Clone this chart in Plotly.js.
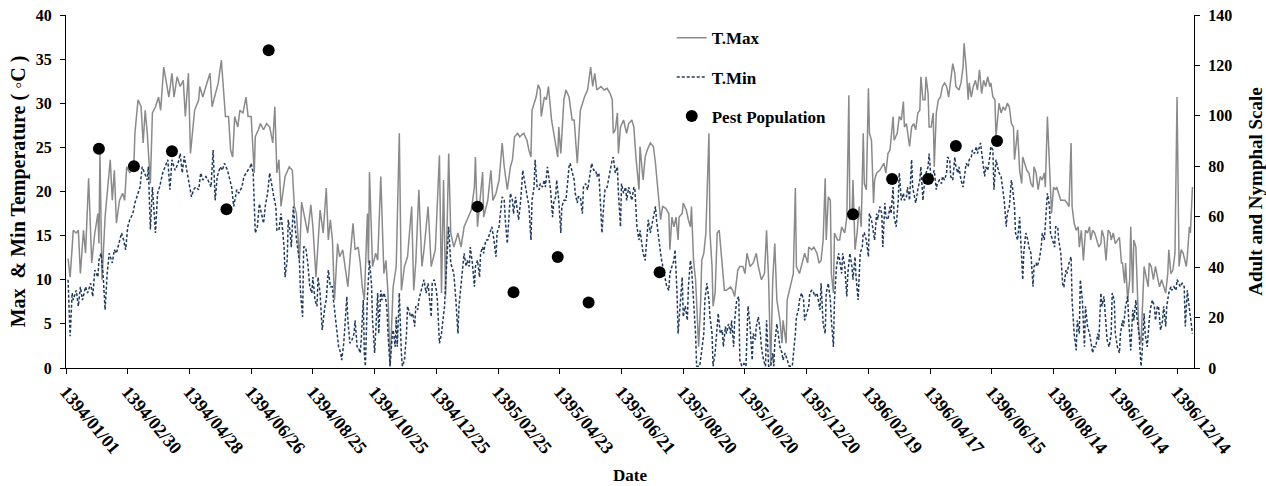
<!DOCTYPE html>
<html>
<head>
<meta charset="utf-8">
<script src="https://cdn.plot.ly/plotly-3.0.1.min.js"></script>
<style>html,body{margin:0;padding:0;background:#fff;}#chart{width:1266px;height:486px;}</style>
</head>
<body>
<div id="chart"></div>
<script>
// Day index from 1394/01/01
const tickDays = [0,60,120,180,240,300,360,420,480,540,600,660,720,780,840,900,960,1020,1080];
const tickLabels = ['1394/01/01','1394/02/30','1394/04/28','1394/06/26','1394/08/25','1394/10/25','1394/12/25','1395/02/25','1395/04/23','1395/06/21','1395/08/20','1395/10/20','1395/12/20','1396/02/19','1396/04/17','1396/06/15','1396/08/14','1396/10/14','1396/12/14'];

const tmaxDay = [2,4,6,7,10,12,14,17,19,22,25,28,31,32,33,35,38,40,43,45,47,49,52,55,57,59,62,66,67,70,73,75,77,79,82,84,87,90,92,95,98,100,103,105,108,111,114,116,119,121,125,129,130,133,137,140,142,145,148,151,153,155,158,160,162,164,167,169,172,175,177,
180,183,184,187,189,192,195,198,201,203,205,207,209,213,217,220,222,224,227,229,232,235,238,240,243,247,250,253,255,257,259,261,264,266,269,274,277,279,281,284,286,288,290,293,294,295,298,301,303,306,309,311,313,315,318,321,324,326,329,332,336,338,340,343,346,348,352,355,359,363,365,367,369,372,374,377,381,
384,387,390,394,397,398,400,403,405,406,410,413,415,418,421,424,426,429,432,434,436,439,441,445,448,450,452,453,457,459,461,462,465,467,469,472,474,478,479,481,484,486,489,492,494,497,500,502,504,507,509,510,512,514,516,520,523,526,529,531,532,534,536,537,539,542,545,547,550,552,554,557,558,561,563,565,568,571,573,575,578,580,583,586,
587,589,591,593,595,596,599,600,603,605,607,608,610,612,613,615,617,618,620,622,625,626,628,629,631,633,635,638,640,642,646,648,650,653,655,658,660,662,665,668,671,673,676,679,681,683,685,687,689,691,694,696,697,700,701,704,707,709,710,713,715,718,721,722,725,727,730,732,734,736,738,739,741,743,744,746,747,750,752,754,757,759,761,762,764,765,767,769,771,773,775,776,778,780,781,783,785,786,788,791,
793,795,797,799,801,802,804,805,808,810,812,814,815,817,820,822,824,826,828,830,831,833,835,836,838,839,841,843,844,846,848,850,852,854,856,858,860,862,864,865,868,870,872,873,875,877,878,880,882,884,886,888,890,892,894,896,898,899,901,903,904,906,907,909,911,913,915,917,919,921,922,924,925,927,929,930,932,934,936,938,940,941,943,945,947,949,951,952,954,956,958,960,962,963,965,967,969,971,973,975,977,978,980,982,984,985,987,989,991,993,
995,996,998,1000,1002,1004,1006,1007,1009,1011,1013,1015,1016,1018,1020,1022,1024,1026,1027,1029,1030,1032,1034,1035,1037,1038,1040,1042,1043,1045,1047,1048,1050,1052,1053,1055,1057,1059,1061,1063,1065,1067,1069,1071,1072,1074,1076,1078,1080,1082,1084,1086,1088,1089,1090,1092,1093,1095];
const tmaxC = [12.4,10.3,13.7,15.6,15.3,15.6,10.7,15.6,13.0,21.5,11.9,15.3,17.5,14.1,24.3,10.0,17.1,19.8,23.6,19.0,22.4,16.4,19.0,19.8,19.0,22.8,22.1,23.2,26.6,30.4,29.6,25.5,29.2,26.6,20.9,28.9,29.6,30.7,29.2,34.1,31.9,30.7,33.4,30.7,33.0,31.9,32.6,28.5,33.4,24.3,29.2,30.4,31.9,30.7,32.3,33.4,29.6,31.1,32.3,34.9,31.1,28.5,28.5,24.7,23.9,28.5,27.3,29.2,28.9,30.7,28.5,
28.5,22.1,26.2,27.0,27.7,27.0,27.7,27.3,25.5,29.6,22.1,23.6,18.3,21.7,22.8,22.4,18.3,17.5,12.2,18.8,17.1,15.3,18.5,16.0,10.3,17.9,15.3,20.4,14.5,16.8,14.5,7.7,14.1,12.6,13.4,9.2,13.7,16.4,13.4,13.7,11.9,9.2,7.7,17.5,11.9,22.2,11.5,13.0,12.2,21.7,10.7,12.2,8.5,0.2,9.2,11.5,26.6,8.8,11.5,12.6,18.3,8.8,11.9,20.2,11.5,13.4,18.3,11.5,13.4,24.1,8.5,21.3,8.2,24.3,15.3,13.7,15.3,
13.7,16.0,16.8,17.9,20.5,23.9,16.0,19.4,22.2,17.1,19.0,22.4,19.0,19.8,21.3,25.5,22.8,20.2,22.8,23.6,26.2,26.6,26.2,26.6,25.8,24.7,23.9,29.2,30.7,32.1,31.5,28.5,30.7,30.4,31.9,28.1,26.6,23.9,27.3,24.3,30.4,31.5,30.7,28.1,28.1,23.2,29.2,30.0,30.7,31.5,33.0,34.1,31.9,33.4,31.5,31.9,31.5,31.7,31.1,30.4,26.6,27.0,28.9,24.3,27.3,28.1,26.6,27.7,28.1,27.3,23.9,20.2,25.1,21.3,23.9,24.7,25.5,25.1,23.2,20.5,16.8,18.3,18.1,17.5,
13.4,17.1,16.0,17.1,14.5,17.1,17.5,18.7,17.9,16.8,16.0,18.3,12.2,10.0,7.7,2.4,7.7,12.2,13.0,15.3,26.6,15.3,11.5,7.0,8.5,15.3,15.6,11.1,8.8,8.8,9.2,8.8,8.1,11.1,11.5,11.5,10.7,13.0,11.5,11.9,13.0,11.5,10.0,10.7,15.6,10.0,0.2,10.0,14.1,7.7,5.4,2.8,5.4,2.8,7.7,9.2,10.7,20.4,11.5,10.7,11.5,13.0,11.9,13.7,13.4,13.7,13.0,11.9,12.2,14.5,21.5,14.5,19.4,19.0,10.7,8.5,15.3,14.5,14.5,16.0,15.3,17.1,30.9,16.8,17.1,21.3,13.4,15.3,18.3,16.0,26.6,20.9,20.2,31.7,26.6,25.8,18.7,21.3,22.1,22.4,
22.8,23.2,22.1,24.3,24.7,25.8,28.5,25.8,26.6,28.5,28.1,30.2,27.3,27.7,25.1,27.3,27.7,27.0,28.9,29.2,33.0,30.4,30.4,33.0,31.1,27.3,27.3,28.9,22.8,28.9,30.4,30.7,31.9,32.3,31.9,30.7,32.6,34.5,33.4,31.9,31.5,32.3,34.1,36.8,34.1,30.4,32.3,30.7,31.9,32.6,31.5,33.8,31.1,32.6,31.9,33.0,31.9,32.3,30.7,30.4,26.2,28.5,30.0,28.9,29.6,29.2,30.0,29.6,27.7,27.3,23.6,25.8,27.0,22.4,20.9,23.9,23.2,22.4,22.1,20.9,20.5,22.8,22.1,20.2,21.7,21.3,22.1,20.5,28.5,22.8,17.5,20.5,20.2,20.5,19.8,19.0,19.0,19.0,18.7,18.3,25.5,18.3,16.4,15.6,16.0,13.7,15.6,12.2,15.6,15.3,
16.0,14.5,15.6,15.3,14.5,13.7,14.1,15.6,14.8,12.2,15.6,15.3,14.5,15.3,14.1,14.5,14.8,11.9,11.9,9.6,11.9,7.7,10.0,16.0,8.5,14.5,13.7,7.0,3.9,2.8,7.7,11.5,10.3,9.2,11.9,11.5,10.0,11.5,10.3,9.2,10.0,9.2,8.5,10.7,13.4,10.7,11.1,13.0,30.7,11.5,13.4,13.0,11.9,11.5,12.6,16.0,15.3,20.5];

const tminDay = [2,4,6,7,10,12,14,16,19,21,24,26,28,31,32,34,36,38,40,42,45,47,49,52,54,56,58,60,62,65,67,70,72,74,76,79,80,82,84,87,89,91,94,96,99,101,103,106,109,111,113,115,117,119,122,124,126,129,131,133,136,138,141,143,145,147,150,152,154,157,159,161,163,166,168,171,173,175,179,
180,182,184,186,188,190,192,194,196,198,200,202,204,205,207,209,210,212,213,215,216,218,219,221,223,225,227,228,230,231,233,235,237,239,240,242,244,245,247,249,250,252,253,255,257,259,260,262,263,265,267,268,270,271,273,274,276,278,280,281,283,284,286,287,289,290,291,293,295,297,298,300,301,303,304,306,307,309,311,312,313,315,317,318,320,321,322,324,326,327,329,331,332,334,335,337,339,340,342,343,345,347,348,350,352,353,355,356,358,360,361,363,365,366,368,369,371,372,374,376,377,379,381,382,384,
385,387,389,390,392,393,395,397,398,400,402,403,405,406,408,410,412,414,416,418,419,421,423,424,426,427,429,431,432,434,435,437,439,440,442,444,445,447,448,450,452,453,455,456,458,460,461,463,465,466,468,469,471,473,474,476,477,479,481,482,484,486,487,489,490,492,494,495,497,498,500,502,503,505,507,508,510,511,513,515,516,518,519,521,523,524,526,528,529,531,532,534,536,537,539,540,542,544,545,547,549,550,552,553,555,557,558,560,561,563,565,566,568,570,571,573,574,576,578,579,581,582,584,586,
587,589,591,592,594,595,597,599,600,602,604,605,607,608,610,612,613,616,618,620,621,623,625,626,628,629,631,633,634,636,638,639,641,642,644,646,647,649,650,652,654,655,657,659,661,662,663,665,667,668,670,671,673,675,676,678,680,681,683,685,687,688,689,691,692,694,696,697,699,701,703,706,707,709,710,712,713,715,717,718,720,722,723,725,726,728,730,731,733,734,736,738,739,741,743,744,746,747,749,751,752,754,755,757,759,760,762,764,765,767,768,770,772,774,775,776,778,780,781,783,785,786,788,789,791,
793,794,796,797,799,801,802,804,805,807,809,810,812,814,815,817,818,820,822,823,825,826,828,830,831,833,835,836,838,839,841,843,844,846,847,849,851,852,854,856,857,859,860,862,864,865,867,868,870,872,873,875,877,878,880,881,883,885,886,888,889,891,893,894,896,898,899,901,902,904,906,907,909,910,912,914,915,917,919,920,922,923,925,927,928,930,931,933,935,936,938,940,941,943,944,946,948,949,951,952,954,956,957,959,961,962,964,965,967,969,970,972,973,975,977,978,980,982,983,985,986,988,990,991,993,
995,996,998,999,1001,1003,1004,1006,1007,1009,1011,1012,1014,1016,1017,1019,1020,1022,1024,1025,1027,1028,1030,1032,1033,1035,1037,1038,1040,1041,1043,1045,1046,1048,1049,1051,1053,1054,1056,1058,1059,1061,1062,1064,1066,1067,1069,1070,1072,1074,1075,1077,1079,1080,1082,1083,1085,1087,1088,1090,1091,1093,1095];
const tminC = [10.0,3.6,8.5,7.7,8.8,7.0,9.2,7.7,9.2,8.5,9.6,8.1,11.1,10.3,12.2,13.0,10.7,6.6,10.7,13.0,11.9,13.4,13.0,14.5,15.3,14.5,13.4,16.0,16.8,17.5,18.7,19.8,20.5,22.8,22.1,21.3,22.8,15.7,20.5,15.3,19.8,20.5,22.1,22.8,23.6,20.2,23.6,22.4,23.2,24.3,22.1,24.0,22.8,21.3,19.4,20.2,20.5,20.2,22.1,21.3,21.7,21.3,20.5,24.7,19.0,21.7,22.8,22.4,23.2,22.4,21.3,20.5,18.3,20.2,19.8,20.5,21.7,22.1,22.8,
23.2,22.1,15.3,16.0,18.6,17.5,16.4,18.6,19.8,22.1,20.5,19.4,18.3,15.6,15.6,17.5,16.4,13.7,10.3,12.2,16.8,15.3,13.7,18.3,15.6,13.4,11.9,8.5,5.8,13.7,13.7,11.9,9.2,8.5,10.3,7.7,7.0,10.3,8.5,4.3,5.4,7.3,7.7,11.1,9.2,9.2,7.7,5.4,4.3,2.4,1.7,0.9,2.8,4.7,8.1,5.4,2.8,3.2,3.9,5.4,2.4,2.4,1.7,3.2,7.7,1.7,0.2,8.1,12.2,9.4,5.4,1.7,4.7,8.5,3.9,8.8,7.7,8.5,7.7,6.6,3.9,0.2,3.5,4.3,2.4,5.8,2.4,8.5,1.7,0.2,0.9,3.9,7.0,6.2,5.8,6.2,4.7,7.0,6.6,7.7,8.8,9.6,10.0,8.5,9.6,8.5,5.8,9.6,10.0,8.8,7.7,2.8,3.9,5.0,7.0,9.6,13.7,16.0,11.9,11.1,10.7,7.7,3.9,7.0,9.4,
10.7,13.0,11.5,12.2,11.5,13.7,11.9,9.2,11.5,12.2,10.3,13.0,13.7,13.0,14.5,14.5,15.3,16.0,14.5,12.6,15.3,16.0,18.3,19.4,19.0,16.8,14.1,19.0,19.8,19.0,17.5,19.4,17.5,16.8,19.0,22.4,21.7,20.5,19.8,18.3,14.5,19.0,20.5,23.6,20.5,20.2,20.9,20.5,21.3,20.5,22.8,21.7,20.2,17.1,18.7,19.4,21.3,19.0,15.3,18.3,19.0,19.0,20.5,22.8,23.2,22.1,21.3,19.8,18.7,19.4,19.4,17.5,20.5,20.9,20.2,20.9,22.4,23.2,22.4,22.4,21.7,22.1,19.8,15.3,19.0,20.2,20.5,22.1,22.4,23.6,23.9,22.1,22.8,19.8,16.0,20.9,19.8,20.5,19.0,20.5,19.4,19.0,20.5,20.2,16.0,14.5,15.6,13.7,13.0,12.2,16.0,16.8,15.3,16.4,16.8,18.3,16.8,14.5,13.0,12.2,11.0,10.5,9.2,8.8,
10.7,11.5,12.2,13.4,8.5,3.9,7.7,10.3,5.8,7.0,5.4,9.2,12.2,11.5,7.7,3.9,0.2,0.2,2.0,3.9,7.7,9.6,7.7,5.8,3.9,0.2,1.7,5.4,6.2,3.9,4.3,2.4,4.7,3.9,5.0,3.9,5.4,2.4,5.4,7.7,8.1,0.9,0.2,0.5,0.2,3.9,7.0,4.7,0.9,3.9,3.2,4.7,5.8,3.9,2.4,0.9,0.2,5.4,0.2,0.2,1.7,0.2,2.8,5.0,3.9,2.4,1.7,0.9,1.7,0.9,0.2,0.2,1.3,3.9,5.8,6.6,7.7,8.5,7.7,5.4,6.2,7.0,8.5,8.8,8.8,8.1,8.5,7.7,6.6,9.6,5.0,3.9,8.5,9.6,7.7,5.4,2.4,7.7,11.5,13.0,12.2,10.7,13.0,11.5,8.1,10.7,13.0,11.5,10.0,12.6,10.3,7.7,13.0,13.7,15.3,15.3,14.5,12.6,17.5,16.8,15.3,14.5,17.5,16.8,18.3,
17.5,13.7,18.7,17.1,16.8,18.3,17.5,20.5,17.1,16.0,19.0,22.1,19.0,19.8,19.0,19.4,20.5,19.0,23.6,20.5,19.4,18.7,20.2,21.3,22.8,19.0,21.7,22.1,22.8,24.3,21.3,22.1,22.4,20.2,20.9,21.3,20.9,21.7,21.3,22.1,23.9,23.6,21.7,21.3,23.9,22.8,22.1,22.8,21.3,20.5,21.3,23.2,22.8,23.6,23.9,24.7,24.3,25.1,24.3,25.1,25.5,23.6,21.7,22.8,22.4,23.9,25.1,24.7,20.2,23.6,22.8,22.1,21.7,20.9,19.0,16.0,17.5,18.3,21.3,20.5,18.3,15.3,14.5,17.1,14.5,10.0,13.0,15.3,14.5,13.7,13.0,9.2,11.5,11.9,11.5,12.2,13.7,15.3,14.5,16.0,19.8,18.3,15.3,14.5,13.7,16.0,16.0,14.5,13.0,9.2,9.2,11.1,10.7,11.9,12.6,7.7,3.9,2.0,5.4,3.9,10.0,7.7,2.4,7.0,4.7,
3.9,3.2,1.7,2.4,2.4,3.9,3.2,8.5,7.0,8.1,3.9,3.2,2.4,3.9,8.5,7.7,3.9,2.4,1.7,3.9,5.4,4.7,7.0,8.1,5.4,2.0,6.6,5.4,7.7,5.8,3.9,0.2,1.7,6.2,3.9,2.4,5.4,6.6,7.7,7.0,5.4,7.0,7.0,4.3,5.4,7.0,4.7,7.0,8.5,9.2,8.8,9.2,8.8,10.0,9.6,9.2,9.6,9.2,4.7,8.8,7.7,5.4,3.9];

const pestDay = [32,66,103,156,197,400,435,478,508,577,765,803,838,865,905];
const pestCount = [87,80,86,63,126,64,30,44,26,38,61,75,75,88,90];

const serif = 'Liberation Serif, Times New Roman, serif';
const traces = [
  {x: tmaxDay, y: tmaxC, type: 'scatter', mode: 'lines', name: 'T.Max', legendgroup: 'a',
   line: {color: '#8a8a8a', width: 1.5}},
  {x: tminDay, y: tminC, type: 'scatter', mode: 'lines', name: 'T.Min', legendgroup: 'b',
   line: {color: '#1f3a60', width: 1.5, dash: '3px,2px'}},
  {x: pestDay, y: pestCount, type: 'scatter', mode: 'markers', name: 'Pest Population', legendgroup: 'c',
   yaxis: 'y2', marker: {color: '#000000', size: 12}}
];

const tickFont = {family: serif, size: 16, color: '#000', weight: 'bold'};
const layout = {
  width: 1266, height: 486,
  margin: {l: 66, r: 72, t: 15, b: 118},
  paper_bgcolor: '#fff', plot_bgcolor: '#fff',
  showlegend: true,
  legend: {x: 0.537, y: 0.985, xanchor: 'left', yanchor: 'top', bgcolor: 'rgba(0,0,0,0)',
           font: {family: serif, size: 17, color: '#000', weight: 'bold'},
           traceorder: 'grouped', tracegroupgap: 14},
  xaxis: {range: [0, 1096.5], tickvals: tickDays, ticktext: tickLabels, tickangle: 50,
          ticks: 'outside', ticklen: 5, tickcolor: '#000', showline: true, linecolor: '#000', linewidth: 1,
          showgrid: false, zeroline: false, tickfont: {family: serif, size: 18, color: '#000', weight: 'bold'},
          title: {text: 'Date', font: {family: serif, size: 17, color: '#000', weight: 'bold'}, standoff: 12}},
  yaxis: {range: [0, 40], dtick: 5, ticks: 'outside', ticklen: 5, tickcolor: '#000', showline: true,
          linecolor: '#000', linewidth: 1, showgrid: false, zeroline: false, tickfont: tickFont, ticklabelstandoff: 5,
          title: {text: 'Max  & Min Temperature ( ◦C )', font: {family: serif, size: 20, color: '#000', weight: 'bold'}, standoff: 4}},
  yaxis2: {range: [0, 140], dtick: 20, overlaying: 'y', side: 'right', ticks: 'outside', ticklen: 5,
           tickcolor: '#000', showline: true, linecolor: '#000', linewidth: 1, showgrid: false, zeroline: false,
           tickfont: tickFont, ticklabelstandoff: 5,
           title: {text: 'Adult and Nymphal Scale', font: {family: serif, size: 19, color: '#000', weight: 'bold'}, standoff: 17}}
};
Plotly.newPlot('chart', traces, layout, {displayModeBar: false, staticPlot: true});
</script>
</body>
</html>
